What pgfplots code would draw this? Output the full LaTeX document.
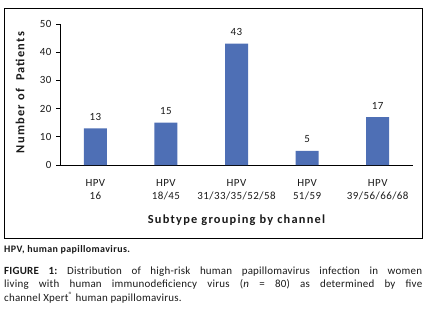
\documentclass[border=0pt]{standalone}
\usepackage{pgfplots}
\pgfplotsset{compat=1.18}
\usepackage{fontspec}
\setmainfont{Carlito}[LetterSpace=4]
\newfontfamily\widefont{Carlito}[LetterSpace=10]
\newfontfamily\capfont{Carlito}[LetterSpace=2]
\definecolor{barblue}{HTML}{4E6FB5}
\definecolor{txt}{HTML}{1A1A1A}
\frenchspacing
\begin{document}
\begin{tikzpicture}[x=1bp,y=1bp]
\useasboundingbox (0,0) rectangle (435,-316);
\draw[line width=1bp] (4,-8) rectangle (422,-238);
\begin{axis}[
  at={(60bp,-165bp)}, anchor=south west,
  scale only axis, width=353bp, height=141bp,
  ymin=0, ymax=50, ytick={0,10,...,50},
  xmin=-0.5, xmax=4.5,
  axis lines=left, axis line style={-, line width=0.8bp, black},
  tick align=outside, tick pos=left,
  major tick length=4bp,
  xtick={0,1,2,3,4},
  x tick style={draw=none},
  xticklabels={{HPV\\16},{HPV\\18/45},{HPV\\31/33/35/52/58},{HPV\\51/59},{HPV\\39/56/66/68}},
  xticklabel style={align=center, font=\fontsize{11}{13.5}\selectfont, text=txt, yshift=-6.5bp},
  minor xtick={-0.5,0.5,1.5,2.5,3.5,4.5},
  minor x tick style={line width=0.8bp, black},
  minor tick length=5bp,
  y tick style={line width=0.8bp, black},
  yticklabel style={font=\fontsize{11}{13}\selectfont, text=txt, xshift=-1bp},
  /pgf/number format/assume math mode=true,
  nodes near coords,
  every node near coord/.append style={font=\fontsize{11}{13}\selectfont, text=txt, yshift=4.5bp},
  clip=false,
]
\addplot[ybar, bar width=23bp, fill=barblue, draw=none] coordinates {(0,13) (1,15) (2,43) (3,5) (4,17)};
\end{axis}
\node[rotate=90, font=\widefont\bfseries\fontsize{12.4}{13}\selectfont, text=txt] at (20,-92.5) {Number of\ \ Patients};
\node[anchor=base, inner sep=0, font=\widefont\bfseries\fontsize{12.4}{13}\selectfont, text=txt] at (236.5,-223.5) {Subtype grouping by channel};
\node[anchor=base west, inner sep=0, font=\bfseries\fontsize{10}{11}\selectfont, text=txt] at (4,-252) {HPV, human papillomavirus.};
\node[anchor=base west, inner sep=0, text width=418bp, align=justify, font=\capfont\fontsize{11}{13.3}\selectfont, text=txt] at (4,-274.7)
{\textbf{FIGURE 1:} Distribution of high-risk human papillomavirus infection in women\linebreak living with human immunodeficiency virus (\textit{n} = 80) as determined by five\linebreak channel Xpert\textsuperscript{®} human papillomavirus.};
\end{tikzpicture}
\end{document}
